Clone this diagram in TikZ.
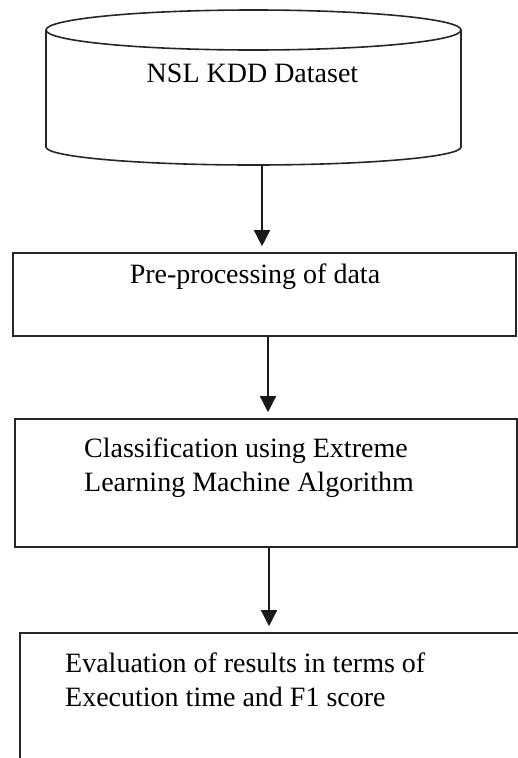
\documentclass[tikz,border=0pt]{standalone}
\usepackage{fontspec}
\setmainfont{Liberation Serif}
\usetikzlibrary{arrows.meta}
\begin{document}
\begin{tikzpicture}[x=1pt,y=-1pt,
  box/.style={draw=black!85, line width=1.6pt, inner sep=0pt, rectangle},
  lbl/.style={inner sep=0pt, font=\fontsize{28}{34}\selectfont},
  arr/.style={draw=black!90, line width=1.4pt, -{Triangle[width=16pt,length=16pt]}, shorten >=6pt},
  cyl/.style={draw=black!85, line width=1.6pt}]
\useasboundingbox (0,0) rectangle (518,758);
\clip (0,0) rectangle (518,758);
% cylinder
\node[inner sep=0pt, minimum width=415pt, minimum height=155pt] (db) at (253.5,87.5) {};
\draw[cyl] (253.5,30) ellipse[x radius=207.5pt, y radius=20pt];
\draw[cyl] (46,30) -- (46,147) arc[start angle=180, end angle=360, x radius=207.5pt, y radius=18pt] -- (461,30);
\node[lbl, anchor=base] (t0) at (252.5,82) {NSL KDD Dataset};
% boxes
\node[box, minimum width=503pt, minimum height=83pt] (b1) at (264.5,294.5) {};
\node[lbl, anchor=base] (t1) at (255,283) {Pre-processing of data};
\node[box, minimum width=502pt, minimum height=128pt] (b2) at (266,483) {};
\node[lbl, anchor=north west, align=left] (t2) at (84,437.5) {Classification using Extreme\\Learning Machine Algorithm};
\node[box, minimum width=540pt, minimum height=167pt] (b3) at (290,716.5) {};
\node[lbl, anchor=north west, align=left] (t3) at (65,652.5) {Evaluation of results in terms of\\Execution time and F1 score};
% arrows
\draw[arr] ([xshift=8.5pt]db.south) -- ([xshift=-2.5pt]b1.north);
\draw[arr] ([xshift=3.5pt]b1.south) -- ([xshift=2pt]b2.north);
\draw[arr] ([xshift=3pt]b2.south) -- ([xshift=-21pt]b3.north);
\end{tikzpicture}
\end{document}
